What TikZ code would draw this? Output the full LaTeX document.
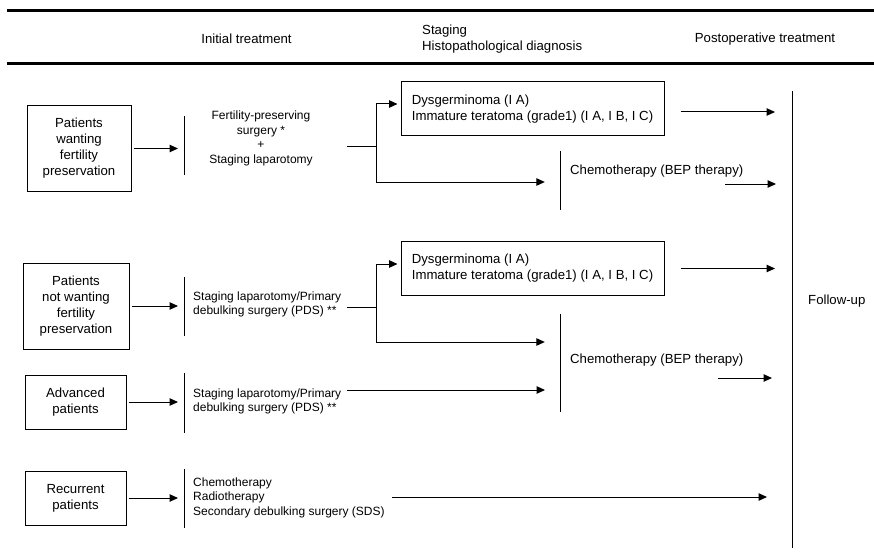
\documentclass[tikz,border=0pt]{standalone}
\usepackage{fontspec}
\setmainfont{Liberation Sans}
\usetikzlibrary{arrows.meta,positioning}

\tikzset{
  big/.style={font=\fontsize{13.2}{16}\selectfont, inner sep=0pt},
  small/.style={font=\fontsize{12}{14.5}\selectfont, inner sep=0pt},
  patbox/.style={big, draw, line width=1pt, align=center},
  stagebox/.style={big, draw, line width=1pt, align=left, minimum width=263pt, minimum height=54pt},
  bar/.style={inner sep=0pt, minimum width=0pt,
    append after command={(\tikzlastnode.north) edge[line width=1pt] (\tikzlastnode.south)}},
  link/.style={line width=1pt},
  arr/.style={line width=1pt, -{Triangle[length=8.5pt,width=7.5pt]}},
  rule/.style={line width=3pt}
}

\begin{document}
\begin{tikzpicture}[x=1pt,y=-1pt]
    \useasboundingbox (0,0) rectangle (874,556);
    % header
    \draw[rule] (7,10.7) -- (874,10.7);
    \draw[rule] (7,63.5) -- (874,63.5);
    \node[big] (hinit) at (246.5,39) {Initial treatment};
    \node[big, align=left, anchor=west] (hstage) at (422,39) {Staging\\Histopathological diagnosis};
    \node[big] (hpost) at (765,39) {Postoperative treatment};

    % patient groups
    \node[patbox, minimum width=104pt, minimum height=85pt] (want) at (79,148.5) {Patients\\wanting\\fertility\\preservation};
    \node[patbox, minimum width=106pt, minimum height=86pt] (notwant) at (76,306) {Patients\\not wanting\\fertility\\preservation};
    \node[patbox, minimum width=101pt, minimum height=54pt] (adv) at (75.5,402) {Advanced\\patients};
    \node[patbox, minimum width=101pt, minimum height=54pt] (recur) at (75.5,498) {Recurrent\\patients};

    % initial treatment
    \node[bar, minimum height=59pt] (bar1) at (184,145.5) {};
    \node[bar, minimum height=59pt] (bar2) at (184,306.5) {};
    \node[bar, minimum height=60pt] (bar3) at (184,403) {};
    \node[bar, minimum height=59pt] (bar4) at (184,498.5) {};
    \node[small, align=center] (surg1) at (261,138.5) {Fertility-preserving\\surgery *\\+\\Staging laparotomy};
    \node[small, align=left, anchor=west] (surg2) at (193,304.5) {Staging laparotomy/Primary\\debulking surgery (PDS) **};
    \node[small, align=left, anchor=west] (surg3) at (193,401.5) {Staging laparotomy/Primary\\debulking surgery (PDS) **};
    \node[small, align=left, anchor=west] (surg4) at (193,497.5) {Chemotherapy\\Radiotherapy\\Secondary debulking surgery (SDS)};

    \foreach \p/\b in {want/bar1, notwant/bar2, adv/bar3, recur/bar4}
        \draw[arr, shorten <=2pt, shorten >=6pt] (\p) -- (\p -| \b);

    % staging
    \node[stagebox] (dys1) at (532.5,109) {Dysgerminoma (I A)\\Immature teratoma (grade1) (I A, I B, I C)};
    \node[stagebox] (dys2) at (532.5,268.5) {Dysgerminoma (I A)\\Immature teratoma (grade1) (I A, I B, I C)};
    \node[bar, minimum height=59pt] (cbar1) at (560,180.5) {};
    \node[bar, minimum height=98pt] (cbar2) at (560,363) {};
    \node[big, anchor=west] (chemo1) at (570,171) {Chemotherapy (BEP therapy)};
    \node[big, anchor=west] (chemo2) at (570,360) {Chemotherapy (BEP therapy)};

    \coordinate (out1) at (347,147);
    \coordinate (fork1) at (376,147);
    \coordinate (out2) at (347,307);
    \coordinate (fork2) at (376,307);
    \coordinate (out3) at (347,390);
    \coordinate (out4) at (392,497);
    \draw[link] (out1) -- (fork1);
    \draw[arr, shorten >=3pt] (fork1) |- ([yshift=5pt]dys1.west);
    \draw[arr, shorten >=15pt] (fork1) |- ([yshift=-1.5pt]cbar1.west);
    \draw[link] (out2) -- (fork2);
    \draw[arr, shorten >=3pt] (fork2) |- ([yshift=4.5pt]dys2.west);
    \draw[arr, shorten >=15pt] (fork2) |- ([yshift=21pt]cbar2.west);
    \draw[arr, shorten >=15pt] (out3) -- (out3 -| cbar2);

    % follow-up
    \node[bar, minimum height=457pt] (follow) at (792,319.5) {};
    \node[big, anchor=west] (fup) at (808,301) {Follow-up};
    \coordinate (c1out) at (725,184);
    \coordinate (c2out) at (718,378);
    \draw[arr, shorten <=16pt, shorten >=17pt] ([yshift=-3pt]dys1.east) -- ([yshift=-3pt]dys1.east -| follow);
    \draw[arr, shorten <=16pt, shorten >=17pt] (dys2.east) -- (dys2.east -| follow);
    \draw[arr, shorten >=16pt] (c1out) -- (c1out -| follow);
    \draw[arr, shorten >=20pt] (c2out) -- (c2out -| follow);
    \draw[arr, shorten >=25pt] (out4) -- (out4 -| follow);
\end{tikzpicture}
\end{document}
